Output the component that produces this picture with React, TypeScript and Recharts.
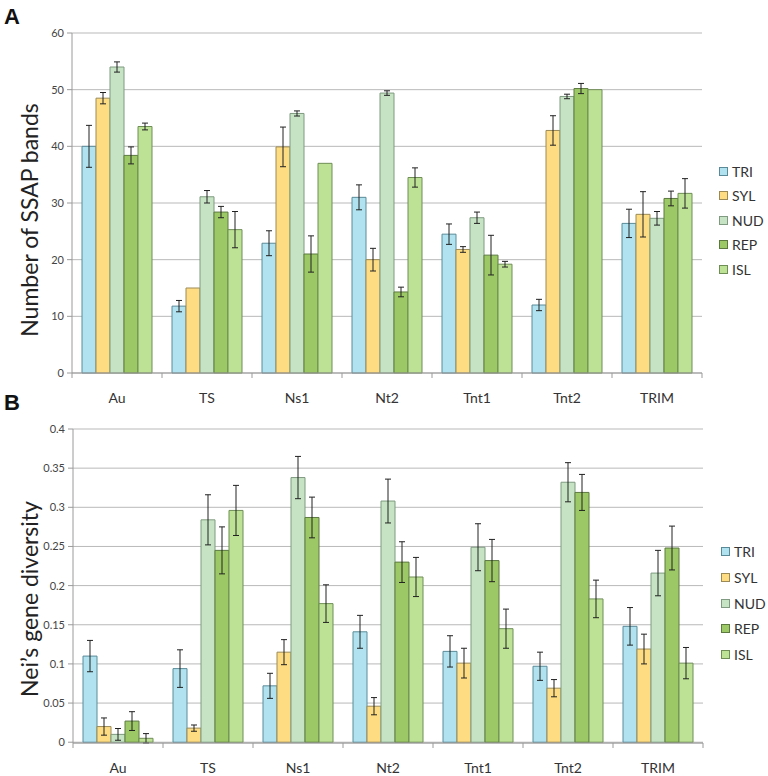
import { BarChart, Bar, XAxis, YAxis, CartesianGrid, ErrorBar, Legend } from 'recharts';

// категории (транспозоны) и выборки
const categories = ['Au', 'TS', 'Ns1', 'Nt2', 'Tnt1', 'Tnt2', 'TRIM'];
const seriesNames = ['TRI', 'SYL', 'NUD', 'REP', 'ISL'];
const seriesFill = ['#b0e3ef', '#fedc82', '#c6e4c4', '#9dc866', '#bee295'];
const seriesStroke = ['#5a8a98', '#9c8a56', '#7f9a80', '#5c7a40', '#6f8e56'];

// Панель A: число полос SSAP
const triBands = [40, 11.8, 22.9, 31, 24.5, 12, 26.4];
const sylBands = [48.5, 15, 39.9, 20, 21.8, 42.8, 28];
const nudBands = [54, 31.1, 45.8, 49.4, 27.4, 48.8, 27.3];
const repBands = [38.4, 28.4, 21, 14.3, 20.8, 50.2, 30.8];
const islBands = [43.5, 25.3, 37, 34.5, 19.2, 50, 31.7];

const triBandsErr = [3.7, 1.0, 2.2, 2.2, 1.8, 1.0, 2.5];
const sylBandsErr = [1.0, null, 3.5, 2.0, 0.5, 2.6, 4.0];
const nudBandsErr = [0.9, 1.1, 0.45, 0.4, 1.0, 0.4, 1.2];
const repBandsErr = [1.5, 1.0, 3.2, 0.85, 3.5, 0.9, 1.3];
const islBandsErr = [0.6, 3.2, null, 1.7, 0.5, null, 2.6];

// Панель B: генетическое разнообразие Нея
const triDiv = [0.11, 0.094, 0.072, 0.141, 0.116, 0.097, 0.148];
const sylDiv = [0.02, 0.018, 0.115, 0.046, 0.101, 0.069, 0.119];
const nudDiv = [0.01, 0.284, 0.338, 0.308, 0.249, 0.332, 0.216];
const repDiv = [0.027, 0.245, 0.287, 0.23, 0.232, 0.319, 0.248];
const islDiv = [0.005, 0.296, 0.177, 0.211, 0.145, 0.183, 0.101];

const triDivErr = [0.02, 0.024, 0.016, 0.021, 0.02, 0.018, 0.024];
const sylDivErr = [0.011, 0.004, 0.016, 0.011, 0.019, 0.011, 0.019];
const nudDivErr = [0.0075, 0.032, 0.027, 0.028, 0.03, 0.025, 0.029];
const repDivErr = [0.012, 0.03, 0.026, 0.026, 0.027, 0.023, 0.028];
const islDivErr = [0.006, 0.032, 0.024, 0.025, 0.025, 0.024, 0.02];

const bandTicks = [0, 10, 20, 30, 40, 50, 60];
const divTicks = [0, 0.05, 0.1, 0.15, 0.2, 0.25, 0.3, 0.35, 0.4];

const FONT = 'Lato, "Open Sans", sans-serif';

function buildRows(values: number[][], errors: (number | null)[][]) {
  return categories.map((cat, i) => {
    const row: Record<string, any> = { cat };
    seriesNames.forEach((name, s) => {
      row[name] = values[s][i];
      row[name + '_err'] = errors[s][i];
    });
    return row;
  });
}

const bandRows = buildRows(
  [triBands, sylBands, nudBands, repBands, islBands],
  [triBandsErr, sylBandsErr, nudBandsErr, repBandsErr, islBandsErr],
);
const divRows = buildRows(
  [triDiv, sylDiv, nudDiv, repDiv, islDiv],
  [triDivErr, sylDivErr, nudDivErr, repDivErr, islDivErr],
);

// подпись категории + риски на границах категорий
function CategoryTick(props: any) {
  const { x, y, payload, index } = props;
  const half = payload?.offset ?? 45;
  const axisY = y - 7; // tickSize 5 + tickMargin 2
  return (
    <g>
      <line x1={x - half} x2={x - half} y1={axisY} y2={axisY + 5} stroke="#9a9a9a" />
      {index === categories.length - 1 && (
        <line x1={x + half} x2={x + half} y1={axisY} y2={axisY + 5} stroke="#9a9a9a" />
      )}
      <text x={x} y={axisY + 24} textAnchor="middle" dominantBaseline="central" fontSize={14} fill="#333" fontFamily={FONT}>
        {payload.value}
      </text>
    </g>
  );
}

function legendContent(gap: number) {
  return () => (
    <div style={{ fontFamily: FONT, fontSize: 14, color: '#333' }}>
      {seriesNames.map((name, i) => (
        <div key={name} style={{ display: 'flex', alignItems: 'center', height: gap }}>
          <span
            style={{
              display: 'inline-block',
              width: 7,
              height: 7,
              background: seriesFill[i],
              border: `1px solid ${seriesStroke[i]}`,
              marginRight: 4,
            }}
          />
          {name}
        </div>
      ))}
    </div>
  );
}

interface PanelProps {
  data: Record<string, any>[];
  height: number;
  top: number;
  bottom: number;
  right: number;
  leftAxis: number;
  ticks: number[];
  yLabel: string;
  labelY: number;
  legendTop: number;
  legendLeft: number;
  legendGap: number;
}

function Panel({ data, height, top, bottom, right, leftAxis, ticks, yLabel, labelY, legendTop, legendLeft, legendGap }: PanelProps) {
  return (
    <BarChart
      width={768}
      height={height}
      data={data}
      margin={{ top, right, bottom: 0, left: 0 }}
      barCategoryGap={10}
      barGap={0}
    >
      <CartesianGrid vertical={false} stroke="#b9b9b9" />
      <XAxis
        dataKey="cat"
        height={bottom}
        axisLine={{ stroke: '#9a9a9a' }}
        tickLine={false}
        tickSize={5}
        tickMargin={2}
        interval={0}
        tick={<CategoryTick />}
      />
      <YAxis
        width={leftAxis}
        domain={[ticks[0], ticks[ticks.length - 1]]}
        ticks={ticks}
        interval={0}
        axisLine={{ stroke: '#9a9a9a' }}
        tickLine={{ stroke: '#9a9a9a' }}
        tickSize={5}
        tickMargin={3}
        tick={{ fontSize: 11, fill: '#444', fontFamily: FONT }}
        label={{
          content: () => (
            <text
              x={29}
              y={labelY}
              transform={`rotate(-90 29 ${labelY})`}
              textAnchor="middle"
              dominantBaseline="central"
              fontSize={23}
              fill="#222"
              fontFamily={FONT}
            >
              {yLabel}
            </text>
          ),
        }}
      />
      <Legend
        layout="horizontal"
        verticalAlign="middle"
        align="center"
        wrapperStyle={{ left: legendLeft, top: legendTop, width: 60, height: legendGap * 5 }}
        content={legendContent(legendGap)}
      />
      {seriesNames.map((name, i) => (
        <Bar
          key={name}
          dataKey={name}
          name={name}
          fill={seriesFill[i]}
          stroke={seriesStroke[i]}
          strokeWidth={1}
          isAnimationActive={false}
        >
          <ErrorBar dataKey={name + '_err'} width={3} stroke="#222" strokeWidth={1} direction="y" />
        </Bar>
      ))}
    </BarChart>
  );
}

export default function App() {
  const panelLetter = {
    position: 'absolute' as const,
    left: 4,
    fontFamily: '"Liberation Sans", Arial, sans-serif',
    fontWeight: 700,
    fontSize: 22,
    lineHeight: 1,
    color: '#111',
  };
  return (
    <div style={{ position: 'absolute', left: 0, top: 0, width: 768, height: 776, background: '#fff' }}>
      <div style={{ position: 'absolute', left: 0, top: 0 }}>
        <Panel
          data={bandRows}
          height={412}
          top={33}
          bottom={39}
          right={66}
          leftAxis={72}
          ticks={bandTicks}
          yLabel="Number of SSAP bands"
          labelY={220}
          legendTop={159}
          legendLeft={719}
          legendGap={24.5}
        />
      </div>
      <div style={{ position: 'absolute', left: 0, top: 400 }}>
        <Panel
          data={divRows}
          height={376}
          top={29}
          bottom={33}
          right={65}
          leftAxis={73}
          ticks={divTicks}
          yLabel="Nei’s gene diversity"
          labelY={199}
          legendTop={139}
          legendLeft={721}
          legendGap={25.7}
        />
      </div>
      <div style={{ ...panelLetter, top: 6 }}>A</div>
      <div style={{ ...panelLetter, top: 392 }}>B</div>
    </div>
  );
}
